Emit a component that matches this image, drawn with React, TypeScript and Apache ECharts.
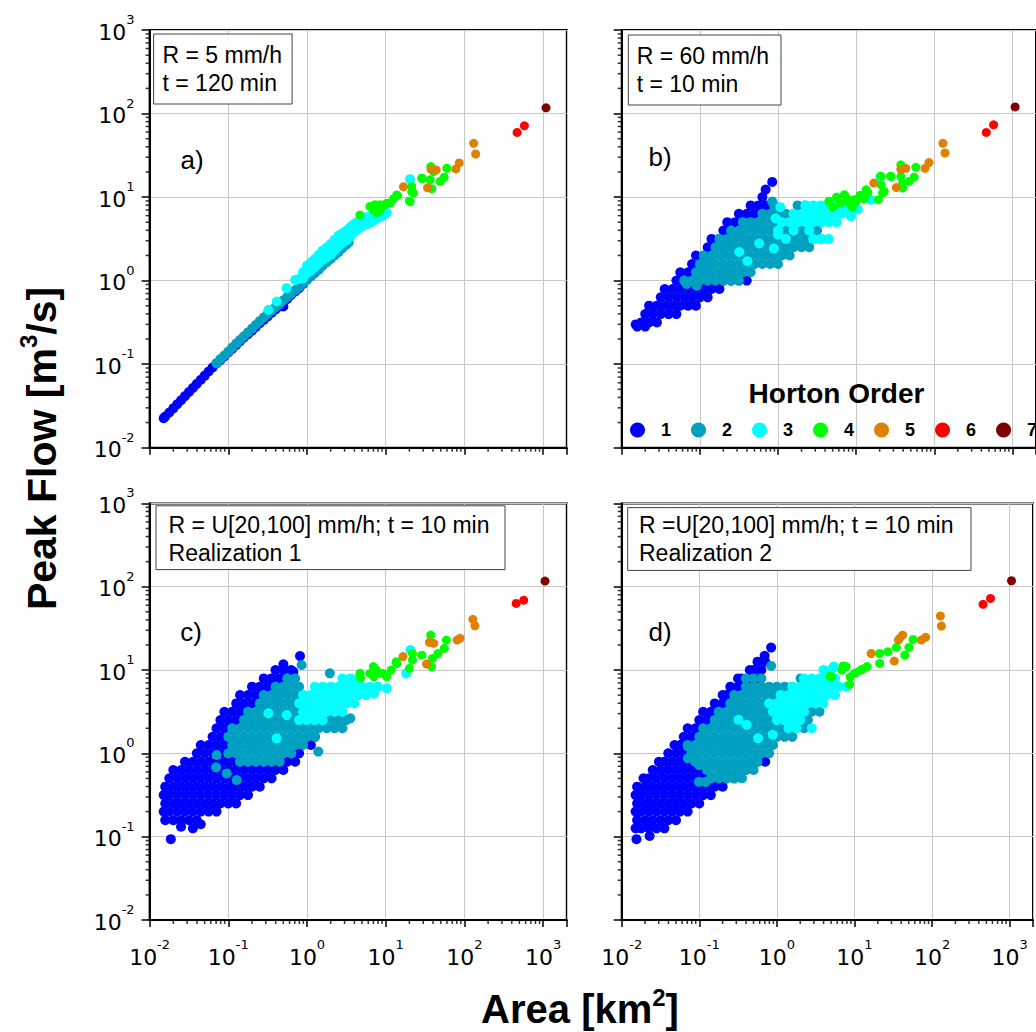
import React, { useEffect, useRef } from 'react';
import * as echarts from 'echarts';

type Pt = [number, number];          // [area km2, peak flow m3/s]
type Row = [number, number[]];       // [peak flow, areas along that flow level]

// ---------------- Panel a) R = 5 mm/h, t = 120 min ----------------
const aOrder1: Pt[] = [
  [0.0151, 0.0225], [0.0158, 0.0236], [0.0178, 0.0264], [0.02, 0.0295], [0.0224, 0.0331], [0.0251, 0.037],
  [0.0282, 0.0415], [0.0316, 0.0464], [0.0355, 0.0519], [0.0398, 0.0581], [0.0447, 0.0651], [0.0501, 0.0729],
  [0.0562, 0.0816], [0.0631, 0.0913], [0.0708, 0.102], [0.0794, 0.112], [0.0891, 0.124], [0.1, 0.138],
  [0.112, 0.153], [0.126, 0.17], [0.141, 0.188], [0.158, 0.209], [0.178, 0.229], [0.2, 0.251], [0.224, 0.279],
  [0.251, 0.309], [0.282, 0.339], [0.316, 0.372], [0.355, 0.412], [0.398, 0.452], [0.447, 0.49], [0.501, 0.49],
  [0.562, 0.603], [0.631, 0.676], [0.708, 0.741], [0.794, 0.813], [0.891, 0.912], [1, 1.05], [1.12, 1.15],
  [1.26, 1.26], [1.41, 1.38],
];
const aOrder2: Pt[] = [
  [0.0708, 0.102], [0.0794, 0.115], [0.0891, 0.127], [0.1, 0.141], [0.112, 0.158], [0.126, 0.176], [0.141, 0.195],
  [0.158, 0.216], [0.178, 0.24], [0.2, 0.266], [0.224, 0.295], [0.251, 0.327], [0.282, 0.363], [0.316, 0.398],
  [0.355, 0.437], [0.398, 0.479], [0.447, 0.525], [0.501, 0.582], [0.562, 0.638], [0.631, 0.7], [0.708, 0.767],
  [0.794, 0.841], [0.891, 0.933], [1, 1.02], [1.12, 1.12], [1.26, 1.23], [1.41, 1.35], [1.58, 1.51], [1.78, 1.66],
  [2, 1.82], [2.24, 2], [2.51, 2.19], [2.82, 2.45], [3.16, 2.69], [3.39, 2.88],
];
const aOrder3: Pt[] = [
  [0.324, 0.447], [0.412, 0.562], [0.55, 0.813], [0.708, 1.02], [0.794, 1.05], [0.891, 1.07], [0.891, 1.26],
  [1, 1.23], [1, 1.51], [1.12, 1.32], [1.12, 1.66], [1.26, 1.45], [1.26, 1.82], [1.41, 1.62], [1.41, 2.04],
  [1.58, 1.78], [1.58, 2.29], [1.78, 1.91], [1.78, 2.51], [2, 2.04], [2, 2.75], [2.24, 2.29], [2.24, 3.09],
  [2.51, 2.57], [2.51, 3.47], [2.82, 2.82], [2.82, 3.72], [3.16, 3.02], [3.16, 3.98], [3.55, 3.39], [3.55, 4.37],
  [3.98, 3.8], [3.98, 4.79], [4.47, 4.17], [4.47, 5.13], [5.01, 4.47], [5.01, 5.5], [5.62, 4.68], [5.62, 5.75],
  [6.31, 4.9], [6.31, 5.89], [7.08, 5.25], [7.08, 6.17], [7.94, 5.62], [7.94, 6.31], [8.91, 5.89], [10, 6.31],
  [10.3, 6.46], [7.31, 5.62], [20.4, 16.4],
];
const aOrder4: Pt[] = [
  [4.7, 6.1], [6.3, 7.7], [7.0, 7.1], [7.7, 6.5], [7.3, 8.1], [7.3, 8.0], [8.5, 8.1], [8.5, 7.0], [9.8, 8.1],
  [10.3, 8.4], [11.4, 8.5], [12.5, 9.5], [13.8, 10.6], [14.1, 10.4], [20, 9.0], [20.4, 8.8], [22.5, 11.2],
  [21.4, 11.6], [21.4, 13.4], [28.6, 16.8], [29.3, 16.7], [36.7, 16.1], [38.5, 12.6], [37.4, 23.2], [40.5, 20.2],
  [49.2, 15.4], [55.4, 17.3], [59.8, 22.1],
];
const aOrder5: Pt[] = [[16.8, 13.3], [34, 12.9], [37.8, 21.5], [43.8, 21.1], [78, 21.7], [86, 25.6], [131, 44], [139, 32.8]];
const aOrder6: Pt[] = [[467, 59.4], [578, 71.3]];
const aOrder7: Pt[] = [[1090, 117]];

// ---------------- Panel b) R = 60 mm/h, t = 10 min ----------------
const bOrder1Rows: Row[] = [
  [0.282, [0.0158, 0.02]],
  [0.316, [0.0178, 0.0224, 0.0282]],
  [0.398, [0.02, 0.0251, 0.0316, 0.0398, 0.0501]],
  [0.501, [0.0224, 0.0282, 0.0355, 0.0447, 0.0562, 0.0708, 0.0891]],
  [0.631, [0.0316, 0.0398, 0.0501, 0.0631, 0.0794, 0.1, 0.126]],
  [0.794, [0.0355, 0.0447, 0.0562, 0.0708, 0.0891, 0.112, 0.141, 0.178]],
  [1, [0.0501, 0.0631, 0.0794, 0.1, 0.126, 0.158, 0.2, 0.251, 0.316, 0.398]],
  [1.26, [0.0562, 0.0708, 0.0891, 0.112]],
  [1.58, [0.0794, 0.1, 0.126]],
  [2, [0.0891, 0.112, 0.141]],
  [2.51, [0.126, 0.158]],
  [3.16, [0.141, 0.178, 0.224]],
  [3.98, [0.2, 0.251, 0.316]],
  [5.01, [0.224, 0.282, 0.355, 0.447]],
  [6.31, [0.316, 0.398, 0.501, 0.631]],
  [7.94, [0.447, 0.562, 0.708]],
  [10, [0.631]],
];
const bOrder1Extra: Pt[] = [[0.0151, 0.299], [0.695, 12.3], [0.843, 15.2]];
const bOrder2Rows: Row[] = [
  [1, [0.0631, 0.0794, 0.1, 0.126, 0.158, 0.2, 0.251, 0.316]],
  [1.26, [0.0891, 0.112, 0.141, 0.178, 0.224, 0.282, 0.355, 0.447]],
  [1.58, [0.1, 0.126, 0.158, 0.2, 0.251, 0.316, 0.398, 0.501, 0.631, 0.794, 1]],
  [2, [0.112, 0.141, 0.178, 0.224, 0.282, 0.355, 0.447, 0.562, 0.708, 0.891, 1.12, 1.41]],
  [2.51, [0.158, 0.2, 0.251, 0.316, 0.398, 0.501, 0.631, 0.794, 1, 1.26, 1.58, 2, 2.51]],
  [3.16, [0.178, 0.224, 0.282, 0.355, 0.447, 0.562, 0.708, 0.891, 1.12, 1.41, 1.78, 2.24, 2.82, 3.55]],
  [3.98, [0.251, 0.316, 0.398, 0.501, 0.631, 0.794, 1, 1.26, 1.58, 2, 2.51, 3.16]],
  [5.01, [0.355, 0.447, 0.562, 0.708, 0.891, 1.12, 1.41, 1.78, 2.24, 2.82]],
  [6.31, [0.631, 0.794, 1, 1.26, 1.58, 2, 2.51]],
  [7.94, [0.891, 1.78, 2.24]],
];
const bOrder2Extra: Pt[] = [[0.0676, 0.912], [0.0912, 0.871], [0.843, 8.87]];
const bOrder3Rows: Row[] = [
  [3.16, [2.82, 3.55, 4.47]],
  [3.98, [1, 1.58, 2.51]],
  [5.01, [1.12, 1.41, 1.78, 2.24, 2.82, 3.55, 4.47, 5.62]],
  [6.31, [1.58, 2, 2.51, 3.16, 3.98, 5.01, 6.31, 7.94]],
  [7.94, [2.24, 2.82, 3.55, 4.47, 5.62, 7.08]],
];
const bOrder3Extra: Pt[] = [
  [0.32, 2.2], [0.407, 1.71], [0.575, 2.78], [0.885, 2.42], [0.933, 5.57], [1.07, 7.57], [1, 3.55], [1.26, 3.16],
  [8.6, 5.9], [10.5, 7.1], [15.5, 9.3], [20.4, 17.3],
];
const bOrder4: Pt[] = [
  [4.47, 8.91], [5.01, 7.59], [5.62, 10], [6.31, 8.51], [7.08, 10.7], [7.94, 9.33], [8.91, 7.59], [10, 8.91],
  [11.2, 10.5], [12.6, 9.55], [14.1, 11.2], [8.2, 8.5], [9.5, 9.3], [11.6, 10.2], [13.4, 12.2], [19.2, 9.3],
  [21.8, 11.2], [20.8, 14], [22.9, 11.7], [20.7, 17.8], [27.5, 17.8], [27.9, 17.6], [37.3, 17.6], [39.2, 14.7],
  [39.2, 12.8], [47.6, 15.4], [55.2, 17.3], [37.3, 24.3], [58, 22.7],
];
const bOrder5: Pt[] = [[16.8, 14.7], [32.6, 13], [37.3, 21.5], [43.2, 22.1], [76, 22.1], [85.5, 25.9], [129, 44], [137, 33.7]];
const bOrder6: Pt[] = [[462, 59.4], [573, 73.3]];
const bOrder7: Pt[] = [[1081, 120]];

// ---------------- Panel c) R = U[20,100] mm/h, realization 1 ----------------
const cOrder1Rows: Row[] = [
  [0.158, [0.0158, 0.02, 0.0251, 0.0316, 0.0398]],
  [0.2, [0.0151, 0.0178, 0.0224, 0.0282, 0.0355, 0.0447, 0.0562, 0.0708]],
  [0.251, [0.0158, 0.02, 0.0251, 0.0316, 0.0398, 0.0501, 0.0631, 0.0794, 0.1, 0.126]],
  [0.316, [0.0151, 0.0178, 0.0224, 0.0282, 0.0355, 0.0447, 0.0562, 0.0708, 0.0891, 0.112, 0.141, 0.178]],
  [0.398, [0.0158, 0.02, 0.0251, 0.0316, 0.0398, 0.0501, 0.0631, 0.0794, 0.1, 0.126, 0.158, 0.2, 0.251]],
  [0.501, [0.0178, 0.0224, 0.0282, 0.0355, 0.0447, 0.0562, 0.0708, 0.0891, 0.112, 0.141, 0.178, 0.224, 0.282, 0.355]],
  [0.631, [0.02, 0.0251, 0.0316, 0.0398, 0.0501, 0.0631, 0.0794, 0.1, 0.126, 0.158, 0.2, 0.251, 0.316, 0.398, 0.501]],
  [0.794, [0.0282, 0.0355, 0.0447, 0.0562, 0.0708, 0.0891, 0.112, 0.141, 0.178, 0.224, 0.282, 0.355, 0.447, 0.562, 0.708]],
  [1, [0.0398, 0.0501, 0.0631, 0.0794, 0.1, 0.126, 0.631, 0.794]],
  [1.26, [0.0447, 0.0562, 0.0708, 0.0891, 0.112, 1.12]],
  [1.58, [0.0631, 0.0794, 0.1, 0.126, 1.26]],
  [2, [0.0708, 0.0891, 0.112]],
  [2.51, [0.0794, 0.1, 0.126]],
  [3.16, [0.0891, 0.112, 0.141, 0.178]],
  [3.98, [0.126, 0.158, 0.2, 0.251]],
  [5.01, [0.141, 0.178, 0.224, 0.282, 0.355]],
  [6.31, [0.2, 0.251, 0.316, 0.398, 0.501]],
  [7.94, [0.282, 0.355, 0.447, 0.562]],
  [10, [0.398, 0.501, 0.631]],
];
const cOrder1Extra: Pt[] = [
  [0.0186, 0.0933], [0.0251, 0.132], [0.0355, 0.126], [0.0447, 0.141], [0.501, 11.7], [0.67, 9.55], [0.815, 14.7],
];
const cOrder2Rows: Row[] = [
  [0.794, [0.141, 0.178, 0.224, 0.282, 0.355, 0.447]],
  [1, [0.1, 0.126, 0.158, 0.2, 0.251, 0.316, 0.398, 0.501, 0.631]],
  [1.26, [0.112, 0.141, 0.178, 0.224, 0.282, 0.355, 0.447, 0.562, 0.708, 0.891]],
  [1.58, [0.1, 0.126, 0.158, 0.2, 0.251, 0.316, 0.398, 0.501, 0.631, 0.794, 1, 1.26]],
  [2, [0.112, 0.141, 0.178, 0.224, 0.282, 0.355, 0.447, 0.562, 0.708, 0.891, 1.12, 1.41, 1.78, 2.24, 2.82]],
  [2.51, [0.158, 0.2, 0.251, 0.316, 0.398, 0.501, 0.631, 0.794, 1, 1.26, 1.58, 2, 2.51, 3.16]],
  [3.16, [0.178, 0.224, 0.282, 0.355, 0.447, 0.562, 0.708, 0.891]],
  [3.98, [0.251, 0.316, 0.398, 0.501, 0.631, 0.794]],
  [5.01, [0.282, 0.355, 0.447, 0.562, 0.708, 0.891]],
  [6.31, [0.398, 0.501, 0.631, 0.794]],
  [7.94, [0.562, 0.708]],
];
const cOrder2Extra: Pt[] = [
  [0.0697, 0.679], [0.0711, 0.955], [0.0955, 0.575], [0.128, 0.479], [0.855, 11.5], [1.39, 1.05], [1.95, 9.12], [3.55, 2.63],
];
const cOrder3Rows: Row[] = [
  [2.51, [0.794, 1, 1.26, 1.58]],
  [3.16, [0.891, 1.12, 1.41, 1.78, 2.24, 2.82]],
  [3.98, [0.794, 1, 1.26, 1.58, 2, 2.51, 3.16, 3.98]],
  [5.01, [0.891, 1.12, 1.41, 1.78, 2.24, 2.82, 3.55, 4.47, 5.62]],
  [6.31, [1.26, 1.58, 2, 2.51, 3.16, 3.98, 5.01, 6.31, 7.94]],
  [7.94, [2.82, 3.55, 4.47]],
];
const cOrder3Extra: Pt[] = [[0.324, 3.02], [0.411, 1.51], [0.552, 2.88], [7.1, 5.2], [10.3, 6.03], [18.2, 9.1], [20.6, 17.4]];
const cOrder4: Pt[] = [
  [4.8, 8.0], [4.72, 9.12], [6.3, 9.1], [7.1, 8.3], [7.6, 10], [6.97, 11.0], [8.47, 9.12], [9.2, 9.1], [10.3, 8.32],
  [11.7, 10], [13.6, 12.6], [13.8, 12.0], [20, 10.5], [21.9, 13.2], [21.9, 15.8], [28.8, 15.1], [38.3, 11.0],
  [39.3, 13.8], [46.1, 15.8], [55.6, 18.2], [59.1, 22.9], [37.3, 26.3],
];
const cOrder5: Pt[] = [[16.6, 14.5], [33, 11.8], [35.9, 21.5], [40.7, 20.9], [80.7, 22.9], [87.9, 24], [128, 40.6], [136, 34]];
const cOrder6: Pt[] = [[454, 63], [567, 69]];
const cOrder7: Pt[] = [[1057, 117]];

// ---------------- Panel d) R = U[20,100] mm/h, realization 2 ----------------
const dOrder1Rows: Row[] = [
  [0.126, [0.0151, 0.0178, 0.0224, 0.0282, 0.0355]],
  [0.158, [0.0158, 0.02, 0.0251, 0.0316, 0.0398, 0.0501]],
  [0.2, [0.0151, 0.0178, 0.0224, 0.0282, 0.0355, 0.0447, 0.0562, 0.0708]],
  [0.251, [0.0158, 0.02, 0.0251, 0.0316, 0.0398, 0.0501, 0.0631, 0.0794, 0.1]],
  [0.316, [0.0151, 0.0178, 0.0224, 0.0282, 0.0355, 0.0447, 0.0562, 0.0708, 0.0891, 0.112, 0.141]],
  [0.398, [0.0158, 0.02, 0.0251, 0.0316, 0.0398, 0.0501, 0.0631, 0.0794, 0.1, 0.126, 0.158, 0.2]],
  [0.501, [0.0191, 0.0224, 0.0282, 0.0355, 0.0447, 0.0562, 0.0708, 0.0891, 0.112, 0.141, 0.178, 0.224, 0.282]],
  [0.631, [0.0251, 0.0316, 0.0398, 0.0501, 0.0631, 0.0794, 0.1, 0.126, 0.158, 0.2, 0.251, 0.316, 0.398]],
  [0.794, [0.0302, 0.0355, 0.0447, 0.0562, 0.0708, 0.0891, 0.562, 0.708]],
  [1, [0.0398, 0.0501, 0.0631, 0.0794]],
  [1.26, [0.0479, 0.0562, 0.0708]],
  [1.58, [0.0631, 0.0794, 0.1]],
  [2, [0.0708, 0.0891, 0.112]],
  [2.51, [0.1, 0.126]],
  [3.16, [0.112, 0.141, 0.178]],
  [3.98, [0.158, 0.2, 0.251]],
  [5.01, [0.2, 0.224, 0.282]],
  [6.31, [0.251, 0.316, 0.398]],
  [7.94, [0.316, 0.355, 0.447, 0.562]],
  [10, [0.447, 0.501, 0.631]],
  [12.6, [0.562, 0.708]],
];
const dOrder1Extra: Pt[] = [[0.0155, 0.0933], [0.0229, 0.102], [0.695, 14.8], [0.843, 18.6]];
const dOrder2Rows: Row[] = [
  [0.501, [0.141, 0.178, 0.224, 0.282, 0.355]],
  [0.631, [0.126, 0.158, 0.2, 0.251, 0.316, 0.398, 0.501]],
  [0.794, [0.0891, 0.112, 0.141, 0.178, 0.224, 0.282, 0.355, 0.447, 0.562]],
  [1, [0.0794, 0.1, 0.126, 0.158, 0.2, 0.251, 0.316, 0.398, 0.501, 0.631, 0.794]],
  [1.26, [0.0708, 0.0891, 0.112, 0.141, 0.178, 0.224, 0.282, 0.355, 0.447, 0.562, 0.708, 0.891]],
  [1.58, [0.1, 0.126, 0.158, 0.2, 0.251, 0.316, 0.398, 0.501, 0.631, 0.794, 1, 1.26, 1.58]],
  [2, [0.112, 0.141, 0.178, 0.224, 0.282, 0.355, 0.447, 0.562, 0.708, 0.891, 1.12, 1.41, 1.78, 2.24]],
  [2.51, [0.158, 0.2, 0.251, 0.316, 0.398, 0.501, 0.631, 0.794, 1, 1.26, 1.58, 2, 2.51]],
  [3.16, [0.178, 0.224, 0.282, 0.355, 0.447, 0.562, 0.708, 0.891, 1.12, 1.41, 1.78, 2.24, 2.82, 3.55]],
  [3.98, [0.251, 0.316, 0.398, 0.501, 0.631, 0.794, 1, 1.26, 1.58, 2, 2.51]],
  [5.01, [0.282, 0.355, 0.447, 0.562, 0.708, 0.891, 1.12, 1.41, 1.78]],
  [6.31, [0.398, 0.501, 0.631, 0.794, 1, 1.26, 1.58, 2]],
  [7.94, [0.398, 0.501, 0.631, 2.02]],
];
const dOrder2Extra: Pt[] = [[0.0713, 0.871], [0.0713, 1.21], [0.099, 0.455], [0.1, 0.724], [0.121, 0.454], [0.843, 11.2]];
const dOrder3Rows: Row[] = [
  [2, [1.41, 1.78, 2.82]],
  [2.51, [1, 1.26, 1.58, 2]],
  [3.16, [0.891, 1.12, 1.41, 1.78, 2.24]],
  [3.98, [0.794, 1, 1.26, 1.58, 2, 2.51, 3.16, 3.98]],
  [5.01, [1.12, 1.41, 1.78, 2.24, 2.82, 3.55, 4.47, 5.62]],
  [6.31, [1.58, 2, 2.51, 3.16, 3.98, 5.01, 6.31, 7.94]],
  [7.94, [2.24, 2.82, 3.55, 4.47, 5.62]],
  [10, [3.98, 5.01]],
];
const dOrder3Extra: Pt[] = [[0.32, 2.53], [0.407, 2.2], [0.573, 1.52], [0.885, 1.67], [5.4, 11]];
const dOrder4: Pt[] = [
  [4.83, 8.45], [5.0, 8.3], [6.9, 10], [7.13, 11.2], [7.8, 11], [8.65, 6.71], [8.8, 8.3], [10, 9.1], [10.5, 9.29],
  [12, 10], [12.7, 10.2], [14.5, 11], [21.1, 12], [21.1, 15.8], [27, 16.6], [34.7, 18.7], [44.5, 15.1], [50.3, 18.7],
  [56.9, 23.3], [38.3, 24],
];
const dOrder5: Pt[] = [[16.4, 15.8], [32.6, 12.8], [36.9, 22.9], [41.8, 26.3], [73, 22.9], [82.6, 24.7], [128, 44.5], [132, 33.7]];
const dOrder6: Pt[] = [[454, 61.4], [567, 72.4]];
const dOrder7: Pt[] = [[1057, 118]];

// ---------------- labels / ticks ----------------
const ORDER_NAMES = ['1', '2', '3', '4', '5', '6', '7'];
const ORDER_COLORS = ['#0000ff', '#00a0c0', '#00ffff', '#00ff00', '#e08000', '#ff0000', '#800000'];
const MINOR_MANTISSAS = [2, 3, 4, 5, 6, 7, 8, 9];
const MINOR_DECADES = [0.01, 0.1, 1, 10, 100];
const PANEL_LETTERS = ['a)', 'b)', 'c)', 'd)'];
const PANEL_NOTES = [
  ['R = 5 mm/h', 't = 120 min'],
  ['R = 60 mm/h', 't = 10 min'],
  ['R = U[20,100] mm/h; t = 10 min', 'Realization 1'],
  ['R =U[20,100] mm/h; t = 10 min', 'Realization 2'],
];
const X_MIN = 0.01, X_MAX = 2000, Y_MIN = 0.01, Y_MAX = 1000;

const fromRows = (rows: Row[]): Pt[] => rows.flatMap(([q, areas]) => areas.map((a) => [a, q] as Pt));

const PANEL_DATA: Pt[][][] = [
  [aOrder1, aOrder2, aOrder3, aOrder4, aOrder5, aOrder6, aOrder7],
  [[...fromRows(bOrder1Rows), ...bOrder1Extra], [...fromRows(bOrder2Rows), ...bOrder2Extra],
   [...fromRows(bOrder3Rows), ...bOrder3Extra], bOrder4, bOrder5, bOrder6, bOrder7],
  [[...fromRows(cOrder1Rows), ...cOrder1Extra], [...fromRows(cOrder2Rows), ...cOrder2Extra],
   [...fromRows(cOrder3Rows), ...cOrder3Extra], cOrder4, cOrder5, cOrder6, cOrder7],
  [[...fromRows(dOrder1Rows), ...dOrder1Extra], [...fromRows(dOrder2Rows), ...dOrder2Extra],
   [...fromRows(dOrder3Rows), ...dOrder3Extra], dOrder4, dOrder5, dOrder6, dOrder7],
];

// layout
const GRIDS = [
  { left: 149.6, top: 30, width: 417.2, height: 417.7, xLab: false, yLab: true },
  { left: 621.7, top: 30, width: 417.2, height: 417.7, xLab: false, yLab: false },
  { left: 149.6, top: 503.4, width: 417.2, height: 416.6, xLab: true, yLab: true },
  { left: 621.7, top: 503.4, width: 417.2, height: 416.6, xLab: true, yLab: false },
];
const NOTE_BOXES = [
  { x: 153.6, y: 34, w: 138.5, h: 70, tx: 162.5, l1: 55, l2: 83 },
  { x: 628.3, y: 35, w: 152.7, h: 70, tx: 636.7, l1: 56, l2: 84 },
  { x: 156, y: 505.8, w: 349, h: 63.8, tx: 168.6, l1: 524.6, l2: 553.4 },
  { x: 627.7, y: 507.6, w: 343.3, h: 62.8, tx: 639, l1: 524.6, l2: 553.4 },
];
const LETTER_POS = [[192, 160], [660, 157], [191, 632], [660, 632]];

const SANS = '"Liberation Sans", Arial, sans-serif';
const TICK_FONT = '"DejaVu Sans", Verdana, sans-serif';

const expLabel = (v: number) => {
  const e = Math.log10(v);
  const r = Math.round(e);
  if (Math.abs(e - r) > 1e-6) return '';
  return `{b|10}{s|${r}}`;
};
const labelRich = {
  b: { fontFamily: TICK_FONT, fontSize: 22, color: '#000', lineHeight: 30, verticalAlign: 'bottom' },
  s: { fontFamily: TICK_FONT, fontSize: 13, color: '#000', lineHeight: 13, verticalAlign: 'top' },
};

export default function App() {
  const ref = useRef<HTMLDivElement>(null);
  useEffect(() => {
    if (!ref.current) return;
    const chart = echarts.init(ref.current, null, { renderer: 'svg', width: 1036, height: 1032 });
    const minorVals = MINOR_DECADES.flatMap((d) => MINOR_MANTISSAS.map((m) => +(m * d).toPrecision(3)));

    const grid = GRIDS.map((g) => ({
      left: g.left, top: g.top, width: g.width, height: g.height,
      show: true, borderColor: '#000', borderWidth: 2, containLabel: false,
    }));
    const xAxis = GRIDS.map((g, i) => ({
      type: 'log', logBase: 10, gridIndex: i, min: X_MIN, max: X_MAX,
      axisLine: { show: true, onZero: false, lineStyle: { color: '#000', width: 2 } },
      axisTick: { show: true, inside: false, length: 7, lineStyle: { color: '#000', width: 1.5 } },
      axisLabel: { show: g.xLab, margin: 18, interval: 0, formatter: expLabel, rich: labelRich },
      splitLine: { show: true, lineStyle: { color: '#c8c8c8', width: 1 } },
    }));
    const yAxis = GRIDS.map((g, i) => ({
      type: 'log', logBase: 10, gridIndex: i, min: Y_MIN, max: Y_MAX,
      axisLine: { show: true, onZero: false, lineStyle: { color: '#000', width: 2 } },
      axisTick: { show: true, inside: false, length: 8, lineStyle: { color: '#000', width: 1.5 } },
      axisLabel: { show: g.yLab, margin: 15, interval: 0, formatter: expLabel, rich: labelRich, padding: [0, 0, 4, 0] },
      splitLine: { show: true, lineStyle: { color: '#c8c8c8', width: 1 } },
    }));

    const series: any[] = [];
    PANEL_DATA.forEach((orders, p) => {
      orders.forEach((data, k) => {
        series.push({
          type: 'scatter', name: ORDER_NAMES[k], xAxisIndex: p, yAxisIndex: p, data,
          symbol: 'circle', symbolSize: k < 3 ? 10 : 9,
          itemStyle: { color: ORDER_COLORS[k], opacity: 1 }, silent: true, z: 3,
        });
      });
      series.push({
        type: 'scatter', xAxisIndex: p, yAxisIndex: p, data: minorVals.map((v) => [v, Y_MIN]),
        symbol: 'rect', symbolSize: [1.5, 4], symbolOffset: [0, 2], itemStyle: { color: '#000' },
        silent: true, clip: false, z: 6,
      });
      series.push({
        type: 'scatter', xAxisIndex: p, yAxisIndex: p, data: minorVals.map((v) => [X_MIN, v]),
        symbol: 'rect', symbolSize: [4, 1.5], symbolOffset: [-2, 0], itemStyle: { color: '#000' },
        silent: true, clip: false, z: 6,
      });
    });

    const graphic: any[] = [];
    NOTE_BOXES.forEach((b, i) => {
      graphic.push({
        type: 'rect', z: 20, shape: { x: b.x, y: b.y, width: b.w, height: b.h },
        style: { fill: '#fff', stroke: '#444', lineWidth: 1 },
      });
      graphic.push({
        type: 'text', z: 21, style: { text: PANEL_NOTES[i][0], x: b.tx, y: b.l1, fontSize: 23, fontFamily: SANS, fill: '#000', align: 'left', verticalAlign: 'middle' },
      });
      graphic.push({
        type: 'text', z: 21, style: { text: PANEL_NOTES[i][1], x: b.tx, y: b.l2, fontSize: 23, fontFamily: SANS, fill: '#000', align: 'left', verticalAlign: 'middle' },
      });
      graphic.push({
        type: 'text', z: 21, style: { text: PANEL_LETTERS[i], x: LETTER_POS[i][0], y: LETTER_POS[i][1], fontSize: 26, fontFamily: SANS, fill: '#000', align: 'center', verticalAlign: 'middle' },
      });
    });
    graphic.push({
      type: 'text', z: 21, style: { text: 'Horton Order', x: 836.5, y: 393, fontSize: 28, fontWeight: 'bold', fontFamily: SANS, fill: '#000', align: 'center', verticalAlign: 'middle' },
    });
    graphic.push({
      type: 'text', z: 21, x: 39, y: 448.5, rotation: Math.PI / 2,
      style: {
        text: '{t|Peak Flow [m}{u|3}{t|/s]}', x: 0, y: 0, align: 'center', verticalAlign: 'middle',
        rich: {
          t: { fontSize: 41, fontWeight: 'bold', fontFamily: SANS, fill: '#000', lineHeight: 46, verticalAlign: 'bottom' },
          u: { fontSize: 24, fontWeight: 'bold', fontFamily: SANS, fill: '#000', lineHeight: 24, verticalAlign: 'top' },
        },
      },
    });
    graphic.push({
      type: 'text', z: 21, x: 580, y: 1007,
      style: {
        text: '{t|Area [km}{u|2}{t|]}', x: 0, y: 0, align: 'center', verticalAlign: 'middle',
        rich: {
          t: { fontSize: 40, fontWeight: 'bold', fontFamily: SANS, fill: '#000', lineHeight: 44, verticalAlign: 'bottom' },
          u: { fontSize: 24, fontWeight: 'bold', fontFamily: SANS, fill: '#000', lineHeight: 24, verticalAlign: 'top' },
        },
      },
    });

    chart.setOption({
      animation: false,
      backgroundColor: '#fff',
      grid, xAxis, yAxis, series, graphic,
      legend: {
        data: ORDER_NAMES, left: 625, top: 416, width: 480, itemWidth: 15, itemHeight: 15, itemGap: 20, icon: 'circle',
        selectedMode: false, orient: 'horizontal',
        textStyle: { fontSize: 18, fontWeight: 'bold', fontFamily: SANS, color: '#000', padding: [0, 0, 0, 11] },
      },
    });
    return () => chart.dispose();
  }, []);
  return <div ref={ref} style={{ position: 'absolute', left: 0, top: 0, width: 1036, height: 1032 }} />;
}
